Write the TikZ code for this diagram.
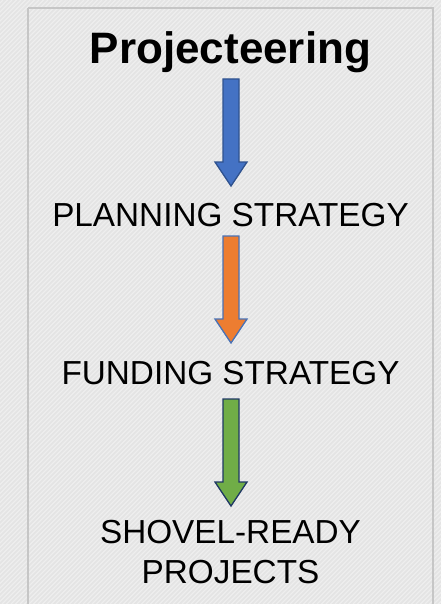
\documentclass[tikz,border=0pt]{standalone}
\usepackage{fontspec}
\setmainfont{Liberation Sans}
\usetikzlibrary{calc}
\definecolor{bgc}{HTML}{E4E4E4}
\definecolor{hatchc}{HTML}{EEEEEE}
\definecolor{framec}{HTML}{C6C6C6}
\definecolor{bluef}{HTML}{4472C4}
\definecolor{bluel}{HTML}{2F528F}
\definecolor{orangef}{HTML}{ED7D31}
\definecolor{orangel}{HTML}{4A72B5}
\definecolor{greenf}{HTML}{70AD47}
\definecolor{greenl}{HTML}{1F3864}
\begin{document}
\begin{tikzpicture}[x=1pt,y=-1pt,
  title/.style={font=\bfseries\fontsize{44}{50}\selectfont, anchor=base, inner sep=0pt},
  label/.style={font=\fontsize{33.3}{40}\selectfont, anchor=base, inner sep=0pt, align=center},
  barrowblue/.style={fill=bluef, draw=bluel, line width=1.3pt, line join=miter},
  barroworange/.style={fill=orangef, draw=orangel, line width=1.3pt, line join=miter},
  barrowgreen/.style={fill=greenf, draw=greenl, line width=1.3pt, line join=miter},
  frame/.style={draw=framec, line width=2pt}]
\useasboundingbox (0,0) rectangle (441,604);
\fill[bgc] (0,0) rectangle (441,604);
\begin{scope}
\clip (0,0) rectangle (441,604);
\foreach \i in {-610,-605.5,...,445} {
  \draw[hatchc, line width=1.3pt] (\i,604) -- ++(604,-604);
}
\end{scope}
\draw[frame] (28,8) -- (433,8) -- (433,620) (28,8) -- (28,620);

\node[title] (t) at (230.5,64) {Projecteering};
\node[label] (p) at (230.5,226) {PLANNING STRATEGY};
\node[label] (f) at (230.5,384) {FUNDING STRATEGY};
\node[label] (s) at (230.5,583) {SHOVEL-READY\\PROJECTS};

\coordinate (a1) at (231,79);  \coordinate (b1) at (231,186);
\coordinate (a2) at (231,236); \coordinate (b2) at (231,343);
\coordinate (a3) at (231,399); \coordinate (b3) at (231,506);

\draw[barrowblue] ($(a1)+(-8,0)$) -- ($(b1)+(-8,-24)$) -- ($(b1)+(-16,-24)$) -- (b1)
  -- ($(b1)+(16,-24)$) -- ($(b1)+(8,-24)$) -- ($(a1)+(8,0)$) -- cycle;
\draw[barroworange] ($(a2)+(-8,0)$) -- ($(b2)+(-8,-24)$) -- ($(b2)+(-16,-24)$) -- (b2)
  -- ($(b2)+(16,-24)$) -- ($(b2)+(8,-24)$) -- ($(a2)+(8,0)$) -- cycle;
\draw[barrowgreen] ($(a3)+(-8,0)$) -- ($(b3)+(-8,-24)$) -- ($(b3)+(-16,-24)$) -- (b3)
  -- ($(b3)+(16,-24)$) -- ($(b3)+(8,-24)$) -- ($(a3)+(8,0)$) -- cycle;
\end{tikzpicture}
\end{document}
